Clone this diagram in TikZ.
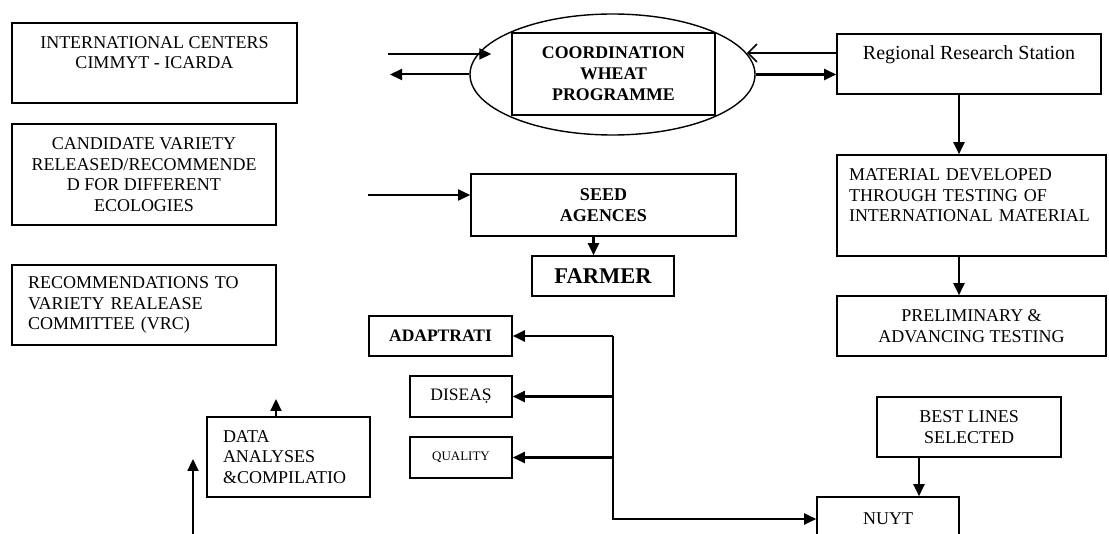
\documentclass[tikz,border=0pt]{standalone}
\usepackage{fontspec}
\setmainfont{Liberation Serif}
\usetikzlibrary{arrows.meta, shapes.geometric}

\begin{document}
\begin{tikzpicture}[x=1pt, y=-1pt, font=\fontsize{18}{20.5}\selectfont]
\useasboundingbox (0, 0) rectangle (1109, 534);
\clip (0, 0) rectangle (1109, 534);

\begin{scope}[every node/.style={rectangle,draw=black,line width=1.6pt,inner sep=3pt,align=center}]
    \node (oval) at (612.5, 74.5) [ellipse, minimum width=285pt, minimum height=121pt, inner sep=0pt, line width=1.4pt] {};
    \node (cwp) at (613.5, 74) [minimum width=203pt, minimum height=82pt, font=\fontsize{17.8}{21}\selectfont\bfseries] {COORDINATION\\WHEAT\\PROGRAMME};

    \node (intl) at (154.5, 63) [minimum width=285pt, minimum height=80pt] {INTERNATIONAL CENTERS\\CIMMYT - ICARDA\\\mbox{}};
    \node (cand) at (144, 174.5) [minimum width=264pt, minimum height=101pt] {CANDIDATE VARIETY\\RELEASED/RECOMMENDE\\D FOR DIFFERENT\\ECOLOGIES};
    \node (vrc) at (144, 305) [minimum height=80pt, text width=232pt, inner xsep=16pt, align=left] {RECOMMENDATIONS TO\\VARIETY REALEASE\\COMMITTEE (VRC)};
    \node (data) at (288.5, 457) [minimum height=80pt, text width=131pt, inner xsep=16pt, align=left] {DATA\\ANALYSES\\\&COMPILATIO};

    \node (seed) at (603.5, 205) [minimum width=265pt, minimum height=62pt, font=\fontsize{18}{20.5}\selectfont\bfseries] {SEED\\AGENCES};
    \node (farmer) at (603, 276) [minimum width=142pt, minimum height=40pt, font=\fontsize{22.5}{24}\selectfont\bfseries] {FARMER};

    \node (adapt) at (440.5, 336) [minimum width=143pt, minimum height=40pt, font=\fontsize{17.5}{20}\selectfont\bfseries] {ADAPTRATI};
    \node (diseas) at (461, 396.5) [minimum width=102pt, minimum height=41pt, font=\fontsize{17.5}{20}\selectfont] {DISEA\d{S}};
    \node (quality) at (461, 457.5) [minimum width=102pt, minimum height=41pt, font=\fontsize{13}{15}\selectfont] {QUALITY};

    \node (rrs) at (969, 64) [minimum width=264pt, minimum height=60pt, font=\fontsize{20}{23}\selectfont] {Regional Research Station\\\mbox{}};
    \node (material) at (971.5, 205.5) [minimum width=269pt, minimum height=101pt, text width=245pt, inner xsep=12pt, align=left] {MATERIAL DEVELOPED\\THROUGH TESTING OF\\INTERNATIONAL MATERIAL\\\mbox{}};
    \node (prelim) at (971.5, 326) [minimum width=269pt, minimum height=60pt] {PRELIMINARY \&\\ADVANCING TESTING};
    \node (best) at (969, 427) [minimum width=184pt, minimum height=60pt] {BEST LINES\\SELECTED};
    \node (nuyt) at (888, 519) [minimum width=142pt, minimum height=44pt] {NUYT};
\end{scope}

\coordinate (in1) at (388, 54);
\coordinate (out1) at (390, 74.5);
\coordinate (seedin) at (368, 195);
\coordinate (dataup) at (276, 399);
\coordinate (upbot) at (193, 540);
\coordinate (uptop) at (193, 459);
\coordinate (bus) at (613, 336);

\begin{scope}[>={Triangle[length=12pt, width=11pt]},
              every edge/.style={draw=black, line width=2.2pt}]
    \path [->] (in1) edge [line width=1.8pt] ([xshift=22pt, yshift=20.5pt]oval.west);
    \path [->] (oval.west) edge [line width=2pt] (out1);
    \path [-{Straight Barb[length=9pt, width=18pt]}] ([yshift=11pt]rrs.west) edge [line width=1.6pt] ([yshift=11pt]rrs.west -| oval.9);
    \path [->] (oval.east) edge (oval.east -| rrs.west);
    \path [->] ([xshift=-10pt]rrs.south) edge ([xshift=-10pt]rrs.south |- material.north);
    \path [->] ([xshift=-12.5pt]material.south) edge ([xshift=-12.5pt]material.south |- prelim.north);
    \path [->] (seedin) edge [line width=1.8pt] (seedin -| seed.west);
    \path [->] ([xshift=-10pt]seed.south) edge ([xshift=-10pt]seed.south |- farmer.north);
    \path [->] ([xshift=-50pt]best.south) edge ([xshift=-50pt]best.south |- nuyt.north);
    \path [->] (bus) edge (adapt.east);
    \path [->] (bus |- diseas.east) edge (diseas.east);
    \path [->] (bus |- quality.east) edge (quality.east);
    \draw [->, line width=2.2pt] (bus) |- (nuyt.west);
    \path [->] ([xshift=-12.5pt]data.north) edge (dataup);
    \path [->] (upbot) edge (uptop);
\end{scope}
\end{tikzpicture}
\end{document}
